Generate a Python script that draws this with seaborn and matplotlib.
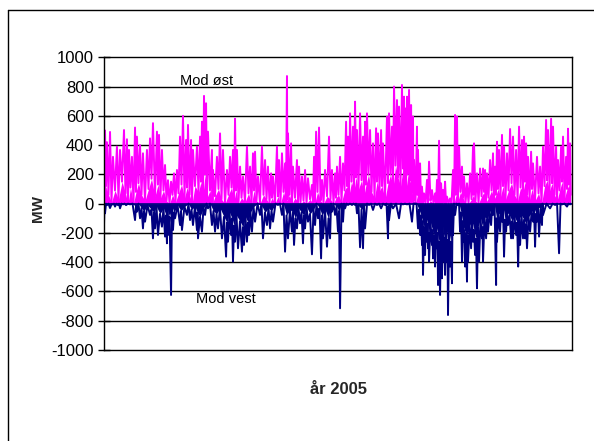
import numpy as np
import pandas as pd
import matplotlib
matplotlib.use("Agg")
import matplotlib.pyplot as plt
from matplotlib.lines import Line2D
import seaborn as sns

# Power flow on the interconnector, 2005 (MW). Positive = towards east, negative = towards west.
# Local highs of the eastward flow and the lows reached between them.
east_day = [
    0, 0.8, 2.3, 4.7, 7.0, 10.1, 12.5, 15.6, 17.9, 19.5,
    21.8, 24.2, 25.7, 28.1, 30.4, 33.5, 35.9, 38.2, 41.3, 42.9,
    45.2, 47.6, 49.9, 52.3, 54.6, 56.9, 59.3, 61.6, 64.0, 65.5,
    67.9, 69.4, 72.5, 74.9, 76.4, 78.0, 79.6, 81.1, 84.2, 85.0,
    88.1, 90.5, 92.8, 95.9, 98.3, 100.6, 102.2, 103.7, 106.1, 108.4,
    111.5, 113.9, 116.2, 117.8, 120.1, 123.2, 125.6, 127.9, 130.3, 131.8,
    134.9, 136.5, 138.8, 141.2, 142.7, 143.5, 145.9, 147.4, 150.5, 152.1,
    154.4, 156.8, 159.1, 162.2, 163.8, 165.4, 167.7, 170.0, 172.4, 175.5,
    177.8, 180.2, 181.7, 184.1, 186.4, 188.8, 190.3, 191.9, 194.2, 195.8,
    197.3, 199.7, 202.0, 203.6, 205.1, 207.5, 209.8, 212.2, 213.7, 216.1,
    217.6, 220.7, 222.3, 224.6, 226.2, 228.5, 230.1, 232.4, 234.0, 234.8,
    236.3, 237.9, 239.5, 241.0, 241.8, 244.1, 244.9, 246.5, 248.0, 249.6,
    251.9, 253.5, 255.8, 258.2, 259.7, 261.3, 262.9, 264.4, 266.0, 267.5,
    269.9, 272.2, 273.8, 275.3, 276.9, 279.2, 280.8, 283.1, 285.5, 287.8,
    288.6, 290.9, 293.3, 295.6, 297.2, 298.7, 301.1, 303.4, 305.0, 306.5,
    308.1, 310.4, 312.0, 314.3, 316.7, 319.0, 321.4, 323.7, 326.0, 327.6,
    329.2, 330.7, 333.1, 334.6, 337.7, 340.1, 342.4, 344.8, 346.3, 348.7,
    350.2, 352.6, 354.1, 356.5, 358.0, 360.4, 361.9, 363.5,
]
east_peak = [
    320, 500, 420, 490, 320, 390, 367, 503, 440, 367,
    320, 520, 458, 400, 344, 367, 446, 550, 492, 470,
    367, 264, 160, 150, 207, 230, 458, 600, 435, 538,
    435, 367, 390, 458, 560, 736, 686, 492, 367, 230,
    320, 480, 367, 230, 320, 367, 580, 367, 253, 185,
    390, 253, 344, 355, 185, 390, 298, 253, 207, 185,
    390, 298, 344, 275, 872, 480, 412, 253, 298, 253,
    185, 230, 173, 128, 320, 492, 520, 162, 230, 458,
    230, 207, 253, 320, 275, 560, 458, 617, 526, 697,
    503, 617, 458, 560, 617, 503, 412, 515, 480, 503,
    412, 595, 617, 526, 800, 708, 663, 811, 731, 651,
    731, 777, 674, 595, 298, 526, 367, 275, 116, 70,
    162, 287, 93, 70, 162, 430, 139, 93, 150, 48,
    36, 230, 606, 595, 390, 253, 185, 139, 207, 390,
    412, 207, 240, 240, 230, 207, 298, 344, 253, 423,
    367, 470, 390, 344, 510, 458, 367, 526, 435, 458,
    412, 320, 355, 275, 320, 253, 390, 572, 503, 580,
    526, 390, 298, 390, 458, 320, 512, 412,
]
east_low = [
    40, 120, 60, 10, 90, 30, 150, 70, 0, 110,
    0, 80, 140, 60, 20, 100, 170, 50, 130, 40,
    90, 20, 0, 60, 10, 70, 130, 40, 110, 60,
    0, 120, 80, 150, 60, 200, 40, 90, 0, 50,
    100, 30, 0, 60, 110, 20, 90, 0, 40, 10,
    70, 0, 90, 20, 0, 60, 30, 0, 40, 0,
    50, 0, 80, 20, 30, 60, 0, 40, 10, 0,
    20, 0, 30, 0, 10, 80, 20, 0, 50, 30,
    0, 40, 60, 10, 90, 120, 60, 150, 90, 180,
    100, 160, 60, 130, 200, 80, 40, 150, 90, 120,
    30, 140, 200, 110, 260, 180, 120, 240, 150, 100,
    200, 160, 80, 20, 0, 60, 10, 0, 0, 0,
    0, 20, 0, 0, 0, 0, 0, 10, 0, 0,
    0, 0, 60, 20, 80, 40, 0, 0, 30, 60,
    20, 0, 50, 80, 10, 40, 90, 30, 60, 100,
    50, 120, 30, 90, 140, 60, 20, 110, 80, 150,
    60, 30, 100, 20, 70, 0, 120, 160, 90, 140,
    60, 20, 90, 150, 40, 100, 130, 60,
]

# Local extremes of the westward flow and the values reached between them.
west_day = [
    0, 0.8, 2.3, 4.7, 7.0, 8.6, 10.9, 12.5, 14.8, 17.2,
    20.3, 24.2, 25.7, 28.1, 30.4, 32.0, 35.9, 38.2, 39.8, 42.1,
    45.2, 47.6, 49.1, 49.9, 52.3, 53.8, 55.4, 59.3, 60.8, 64.7,
    67.1, 69.4, 72.5, 73.3, 76.4, 78.8, 81.1, 84.2, 86.6, 88.9,
    92.0, 95.2, 96.7, 99.1, 100.6, 102.2, 104.5, 107.6, 109.2, 111.5,
    113.1, 115.4, 117.8, 121.7, 124.0, 127.1, 129.5, 131.8, 135.7, 138.8,
    141.2, 143.5, 146.6, 148.2, 150.5, 152.9, 155.2, 156.8, 159.1, 162.2,
    164.6, 166.9, 169.3, 170.8, 173.9, 176.3, 177.8, 180.2, 182.5, 184.1,
    186.4, 188.0, 190.3, 193.4, 195.8, 197.3, 199.7, 202.0, 203.6, 206.7,
    209.8, 212.9, 216.1, 219.2, 221.5, 222.3, 225.4, 230.1, 233.2, 236.3,
    240.2, 242.6, 244.9, 246.5, 248.0, 248.8, 250.4, 251.9, 252.7, 253.5,
    255.8, 256.6, 258.2, 259.7, 260.5, 262.1, 263.6, 264.4, 266.0, 267.5,
    268.3, 269.9, 271.4, 272.2, 273.8, 276.1, 277.7, 279.2, 280.0, 281.6,
    283.1, 283.9, 286.3, 287.8, 289.4, 290.9, 292.5, 294.8, 295.6, 298.0,
    299.5, 301.9, 303.4, 305.8, 306.5, 308.9, 310.4, 312.0, 313.6, 315.1,
    317.5, 319.0, 321.4, 323.0, 324.5, 326.8, 328.4, 329.9, 332.3, 334.6,
    336.2, 337.7, 339.3, 341.6, 342.4, 347.9, 351.8, 354.9, 357.2, 361.1,
    363.5,
]
west_peak = [
    -146, -66, -10, -30, -5, -20, -10, -32, -5, -10,
    -5, -112, -55, -100, -169, -123, -77, -237, -169, -214,
    -157, -225, -271, -214, -624, -180, -100, -146, -180, -77,
    -112, -146, -180, -237, -191, -77, -32, -146, -191, -169,
    -237, -362, -260, -214, -396, -260, -305, -328, -282, -260,
    -214, -191, -123, -77, -237, -146, -169, -123, -9, -77,
    -328, -237, -191, -282, -169, -134, -271, -169, -123, -346,
    -146, -100, -374, -237, -294, -237, -55, -77, -191, -715,
    -123, -32, -9, -9, -9, -66, -298, -305, -169, -9,
    -43, -9, -32, -9, -237, -112, -32, -100, -5, -5,
    -123, 0, -169, -214, -282, -487, -351, -260, -305, -396,
    -282, -374, -430, -305, -556, -624, -510, -396, -487, -396,
    -761, -430, -544, -214, -77, -9, -191, -396, -260, -430,
    -533, -396, -305, -260, -351, -578, -396, -237, -396, -237,
    -191, -146, -77, -556, -260, -191, -123, -362, -191, -146,
    -237, -237, -214, -430, -282, -237, -237, -305, -191, -123,
    -294, -123, -225, -146, -77, -32, -9, -339, -5, -20,
    -5,
]
west_low = [
    0, 0, 0, -5, 0, 0, 0, 0, 0, 0,
    0, -20, 0, -30, -50, -10, -40, -60, -20, -70,
    -30, -80, -40, -90, -20, -60, -10, -50, -20, 0,
    -40, -20, -60, -90, -30, 0, 0, -50, -70, -30,
    -90, -130, -60, -100, -150, -80, -120, -160, -90, -130,
    -60, -20, 0, -10, -60, -30, -50, 0, 0, 0,
    -80, -40, -60, -100, -30, -60, -80, -20, -70, -40,
    0, -30, -80, -40, -100, 0, 0, -20, -50, 0,
    0, 0, 0, 0, 0, -10, -40, -20, 0, 0,
    0, 0, 0, 0, -20, 0, 0, 0, 0, 0,
    0, 0, -40, -80, -120, -160, -90, -140, -200, -130,
    -180, -220, -150, -200, -260, -180, -150, -230, -160, -250,
    -200, -260, -100, 0, 0, 0, -60, -120, -180, -200,
    -220, -150, -120, -180, -240, -160, -100, -160, -90, -110,
    -60, -30, -10, -100, -80, -40, -20, -110, -60, -80,
    -120, -90, -130, -100, -80, -110, -140, -90, -60, -30,
    -70, -20, -40, 0, 0, 0, 0, 0, 0, 0,
    0,
]

y_ticks = list(range(-1000, 1001, 200))
label_east = "Mod øst"
label_west = "Mod vest"
x_title = "år 2005"
y_title = "MW"

EAST_COLOR = "#FF00FF"
WEST_COLOR = "#000080"


def zigzag(days, highs, lows):
    """Alternate each extreme with the value reached before the next one."""
    xs, ys, kind = [], [], []
    for i, (d, h, lo) in enumerate(zip(days, highs, lows)):
        nxt = days[i + 1] if i + 1 < len(days) else d + 1.0
        xs += [d, (d + nxt) / 2]
        ys += [h, lo]
        kind += ["peak", "low"]
    return pd.DataFrame({"day": xs, "MW": ys, "kind": kind})


east_df = zigzag(east_day, east_peak, east_low)
west_df = zigzag(west_day, west_peak, west_low)

sns.set_style("white")
plt.rcParams["font.family"] = ["Liberation Sans", "DejaVu Sans"]
plt.rcParams["axes.unicode_minus"] = False

W, H = 594, 441
fig = plt.figure(figsize=(W / 100, H / 100), dpi=100)
ax = fig.add_axes([104 / W, 1 - 350 / H, (572 - 104) / W, (350 - 57.3) / H])

for y in y_ticks[1:-1]:
    if y != 0:
        ax.axhline(y, color="black", lw=1.0, zorder=0)

# eastward flow: solid base up to the lows, spikes up to each high
e_low = east_df[east_df["kind"] == "low"]
ax.fill_between(e_low["day"], 0, e_low["MW"], color=EAST_COLOR, lw=0, zorder=2)
sns.lineplot(data=east_df, x="day", y="MW", sort=False, estimator=None,
             color=EAST_COLOR, lw=1.4, ax=ax, zorder=2)

ax.axhline(0, color=WEST_COLOR, lw=1.2, zorder=2.5)

# westward flow
w_low = west_df[west_df["kind"] == "low"]
ax.fill_between(w_low["day"], 0, w_low["MW"], color=WEST_COLOR, lw=0, zorder=3)
sns.lineplot(data=west_df, x="day", y="MW", sort=False, estimator=None,
             color=WEST_COLOR, lw=1.4, ax=ax, zorder=3)

ax.set_xlim(0, 365)
ax.set_ylim(-1000, 1000)
ax.set_xticks([])
ax.set_yticks(y_ticks)
ax.set_yticklabels([str(v) for v in y_ticks])
ax.tick_params(axis="y", direction="inout", length=9, width=1, pad=3,
               labelsize=12, colors="black", left=True)
ax.set_xlabel("")
ax.set_ylabel("")
for s in ax.spines.values():
    s.set_color("black")
    s.set_linewidth(1.0)
    s.set_visible(True)
    s.set_zorder(5)

ax.text(206.5 / W, 1 - 81 / H, label_east, transform=fig.transFigure,
        ha="center", va="center", fontsize=10.5, color="black")
ax.text(226 / W, 1 - 299 / H, label_west, transform=fig.transFigure,
        ha="center", va="center", fontsize=10.5, color="black")
fig.text(338 / W, 1 - 389 / H, x_title, ha="center", va="center",
         fontsize=12, fontweight="bold")
fig.text(38 / W, 1 - 208 / H, y_title, ha="center", va="center",
         fontsize=11, fontweight="bold", rotation=90)

# outer frame of the chart area
fig.add_artist(Line2D([7.8 / W, 7.8 / W], [1 - 10 / H, 0], transform=fig.transFigure,
                      color="black", lw=1.0))
fig.add_artist(Line2D([7.8 / W, 1], [1 - 10 / H, 1 - 10 / H], transform=fig.transFigure,
                      color="black", lw=1.0))

fig.savefig("out.png", dpi=100)
